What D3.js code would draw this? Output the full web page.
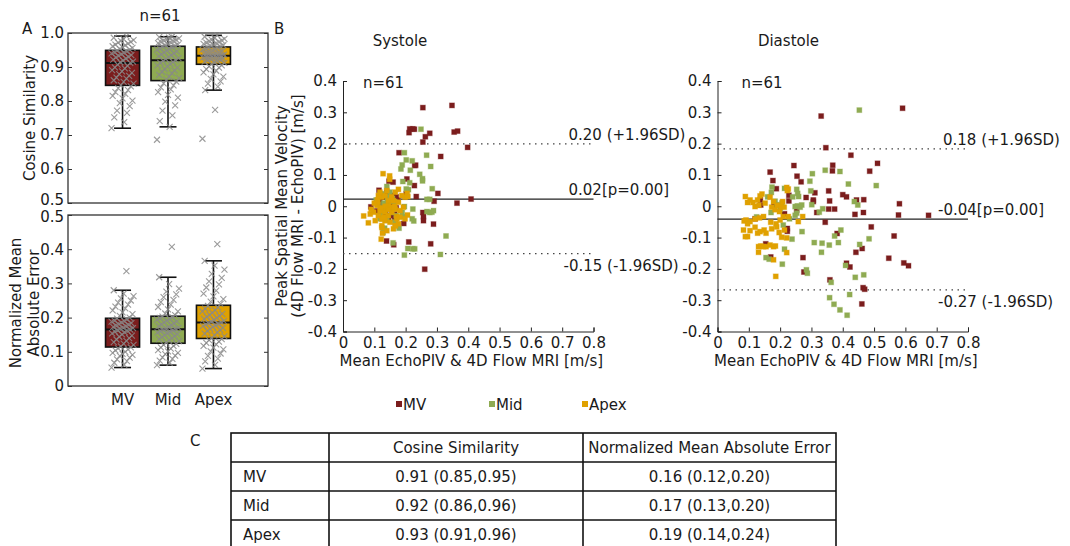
<!DOCTYPE html>
<html>
<head>
<meta charset="utf-8">
<title>EchoPIV vs 4D Flow MRI</title>
<script src="https://d3js.org/d3.v7.min.js"></script>
<style>
body { margin: 0; background: #fff; }
svg text { font-family: "DejaVu Sans", sans-serif; fill: #1a1a1a; }
</style>
</head>
<body>
<div id="chart"></div>
<script>
// ---- data ----
const groups = ['MV', 'Mid', 'Apex'];
const groupColors = ['#7b1d1d', '#8fab52', '#e0a100'];

// panel A box statistics (whisker low, q1, median, q3, whisker high)
const cosLo  = [0.720, 0.724, 0.832];
const cosQ1  = [0.846, 0.860, 0.908];
const cosMed = [0.912, 0.920, 0.933];
const cosQ3  = [0.949, 0.961, 0.959];
const cosHi  = [0.991, 0.989, 0.993];

const nmaeLo  = [0.054, 0.061, 0.051];
const nmaeQ1  = [0.114, 0.125, 0.139];
const nmaeMed = [0.165, 0.166, 0.186];
const nmaeQ3  = [0.198, 0.204, 0.236];
const nmaeHi  = [0.280, 0.318, 0.366];

// panel A individual values (n=61 each)
const cosMV = [0.720,0.738,0.752,0.765,0.772,0.785,0.794,0.801,0.808,0.815,0.821,0.826,0.832,0.838,0.843,
  0.847,0.851,0.856,0.861,0.866,0.869,0.874,0.879,0.883,0.887,0.891,0.896,0.899,0.903,0.907,0.912,
  0.914,0.916,0.919,0.922,0.925,0.928,0.930,0.933,0.935,0.938,0.940,0.942,0.944,0.946,0.948,
  0.951,0.953,0.956,0.958,0.961,0.964,0.966,0.969,0.972,0.974,0.977,0.979,0.982,0.986,0.991];
const cosMid = [0.686,0.724,0.741,0.758,0.772,0.787,0.798,0.810,0.818,0.826,0.834,0.840,0.846,0.852,0.857,
  0.862,0.867,0.872,0.877,0.882,0.886,0.890,0.894,0.898,0.902,0.905,0.909,0.912,0.915,0.918,0.920,
  0.923,0.926,0.929,0.932,0.935,0.937,0.940,0.943,0.946,0.948,0.951,0.953,0.955,0.958,0.960,
  0.962,0.964,0.966,0.968,0.970,0.972,0.974,0.976,0.978,0.980,0.982,0.984,0.986,0.988,0.989];
const cosApex = [0.689,0.774,0.832,0.842,0.851,0.858,0.865,0.872,0.878,0.884,0.889,0.894,0.898,0.902,0.905,
  0.909,0.912,0.914,0.916,0.918,0.920,0.922,0.924,0.925,0.927,0.928,0.929,0.930,0.931,0.932,0.933,
  0.934,0.936,0.937,0.939,0.940,0.942,0.943,0.945,0.947,0.949,0.951,0.953,0.955,0.957,0.958,
  0.960,0.962,0.964,0.966,0.968,0.970,0.972,0.974,0.976,0.978,0.980,0.983,0.986,0.989,0.993];
const nmaeMV = [0.054,0.062,0.068,0.073,0.078,0.083,0.088,0.091,0.094,0.097,0.100,0.104,0.107,0.110,0.113,
  0.116,0.120,0.124,0.128,0.132,0.136,0.140,0.144,0.147,0.151,0.154,0.157,0.159,0.161,0.163,0.165,
  0.167,0.169,0.171,0.173,0.175,0.177,0.179,0.181,0.184,0.186,0.188,0.190,0.192,0.195,0.197,
  0.200,0.205,0.210,0.215,0.221,0.227,0.232,0.238,0.244,0.250,0.256,0.263,0.270,0.280,0.336];
const nmaeMid = [0.061,0.068,0.074,0.079,0.084,0.089,0.093,0.097,0.101,0.105,0.109,0.113,0.117,0.120,0.123,
  0.127,0.131,0.134,0.137,0.140,0.143,0.146,0.149,0.152,0.155,0.157,0.159,0.161,0.163,0.165,0.166,
  0.168,0.170,0.172,0.175,0.178,0.180,0.183,0.186,0.189,0.191,0.194,0.196,0.199,0.201,0.203,
  0.207,0.212,0.218,0.224,0.231,0.238,0.245,0.252,0.260,0.268,0.276,0.285,0.298,0.318,0.407];
const nmaeApex = [0.051,0.062,0.072,0.080,0.088,0.095,0.101,0.107,0.112,0.117,0.122,0.126,0.130,0.134,0.137,
  0.141,0.145,0.149,0.153,0.157,0.161,0.164,0.167,0.170,0.173,0.176,0.178,0.180,0.182,0.184,0.186,
  0.188,0.190,0.193,0.196,0.199,0.202,0.205,0.208,0.211,0.214,0.218,0.222,0.226,0.230,0.234,
  0.240,0.247,0.254,0.262,0.270,0.279,0.288,0.297,0.306,0.316,0.328,0.340,0.352,0.366,0.415];

// panel B Bland-Altman points [mean, difference]
const sysMV = [[0.255,0.315],[0.348,0.322],[0.213,0.247],[0.223,0.247],[0.228,0.246],[0.211,0.235],[0.277,0.233],
  [0.355,0.237],[0.366,0.240],[0.263,0.222],[0.255,0.205],[0.398,0.188],[0.179,0.171],[0.229,0.130],[0.232,0.131],
  [0.312,0.159],[0.228,0.066],[0.147,0.080],[0.160,0.077],[0.115,0.051],[0.204,0.087],[0.234,0.031],[0.303,0.041],
  [0.409,0.023],[0.291,0.016],[0.364,0.010],[0.089,-0.002],[0.255,-0.020],[0.257,-0.033],[0.257,-0.046],[0.289,-0.057],
  [0.194,-0.055],[0.139,-0.111],[0.162,-0.123],[0.210,-0.114],[0.280,-0.120],[0.261,-0.201],[0.202,0.040],
  [0.125,0.030],[0.140,0.045],[0.150,0.010],[0.165,-0.025],[0.118,0.010],[0.135,-0.020],[0.145,0.000],[0.175,0.020],
  [0.128,-0.010],[0.145,-0.040],[0.170,-0.005],[0.130,0.000],[0.122,-0.030],[0.160,0.035],[0.108,-0.015],[0.148,0.022],
  [0.170,0.030],[0.165,-0.040],[0.155,-0.015],[0.150,-0.030],[0.115,0.020],[0.160,0.010],[0.138,0.030]];
const sysMid = [[0.249,0.246],[0.196,0.171],[0.267,0.163],[0.202,0.148],[0.221,0.145],[0.189,0.132],[0.185,0.119],
  [0.280,0.127],[0.215,0.115],[0.245,0.102],[0.254,0.088],[0.254,0.081],[0.191,0.079],[0.213,0.075],[0.285,0.056],
  [0.209,0.053],[0.202,0.055],[0.140,0.063],[0.119,0.039],[0.106,0.020],[0.268,0.022],[0.277,0.022],[0.196,-0.001],
  [0.223,-0.009],[0.189,-0.020],[0.194,-0.033],[0.221,-0.040],[0.226,-0.047],[0.268,-0.017],[0.277,-0.020],[0.284,-0.019],
  [0.289,-0.014],[0.133,-0.070],[0.128,-0.084],[0.179,-0.070],[0.168,-0.055],[0.329,-0.095],[0.160,-0.117],[0.207,-0.135],
  [0.223,-0.136],[0.229,-0.136],[0.196,-0.156],[0.311,-0.154],
  [0.130,0.010],[0.145,0.030],[0.155,-0.020],[0.120,-0.025],[0.165,0.015],[0.140,-0.045],[0.112,0.005],[0.150,0.045],
  [0.170,-0.030],[0.125,0.040],[0.135,-0.005],[0.160,-0.008],[0.118,-0.040],[0.148,0.015],[0.158,0.025],[0.128,-0.015],
  [0.142,0.020],[0.165,-0.050]];
const sysApex = [[0.128,0.104],[0.149,0.097],[0.149,0.086],[0.066,-0.031],[0.081,-0.053],[0.124,-0.068],[0.126,-0.086],
  [0.122,-0.105],[0.177,0.054],[0.205,0.041],[0.207,0.031],[0.167,-0.062],[0.172,-0.033],[0.206,-0.028],
  [0.124,0.029],[0.134,0.034],[0.145,0.018],[0.108,0.003],[0.098,-0.019],[0.113,-0.030],[0.129,-0.014],[0.145,-0.030],
  [0.156,-0.003],[0.167,-0.009],[0.134,-0.046],[0.150,-0.051],[0.103,-0.046],[0.172,-0.040],[0.177,-0.056],[0.161,-0.072],
  [0.182,-0.035],[0.198,-0.040],[0.193,-0.003],[0.177,0.013],[0.198,0.029],[0.167,0.045],[0.124,-0.041],[0.087,-0.025],
  [0.118,-0.014],[0.145,0.002],[0.134,-0.019],[0.156,-0.019],[0.111,0.013],[0.161,0.018],[0.182,-0.014],[0.167,-0.062],
  [0.124,-0.062],[0.140,-0.078],[0.113,0.034],[0.188,0.034],[0.110,0.020],[0.135,0.000],[0.145,-0.010],[0.120,-0.005],
  [0.155,0.030],[0.100,0.010],[0.140,0.050],[0.165,0.000],[0.130,-0.035],[0.118,0.045],[0.090,-0.010]];

const diaMV = [[0.331,0.288],[0.591,0.313],[0.346,0.187],[0.426,0.163],[0.511,0.137],[0.244,0.130],[0.368,0.131],
  [0.367,0.113],[0.486,0.112],[0.168,0.109],[0.254,0.096],[0.177,0.082],[0.267,0.078],[0.188,0.056],[0.355,0.049],
  [0.311,0.043],[0.400,0.037],[0.412,0.030],[0.228,0.035],[0.283,0.028],[0.306,0.020],[0.306,0.015],[0.444,0.020],
  [0.467,0.021],[0.358,0.017],[0.228,0.017],[0.581,0.008],[0.137,0.021],[0.355,-0.009],[0.374,-0.009],[0.317,-0.020],
  [0.214,-0.024],[0.466,-0.020],[0.439,-0.026],[0.578,-0.028],[0.674,-0.029],[0.344,-0.051],[0.491,-0.066],[0.223,-0.071],
  [0.382,-0.087],[0.564,-0.095],[0.154,-0.120],[0.462,-0.135],[0.442,-0.147],[0.273,-0.164],[0.547,-0.166],[0.170,-0.162],
  [0.412,-0.182],[0.423,-0.194],[0.595,-0.181],[0.610,-0.190],[0.276,-0.210],[0.359,-0.235],[0.465,-0.260],[0.470,-0.265],
  [0.461,-0.312],[0.138,0.004],[0.253,-0.012],[0.223,-0.080],[0.120,-0.040],[0.180,0.000]];
const diaMid = [[0.453,0.307],[0.344,0.115],[0.391,0.111],[0.303,0.104],[0.295,0.080],[0.418,0.071],[0.507,0.066],
  [0.174,0.061],[0.214,0.057],[0.253,0.054],[0.172,0.044],[0.298,0.049],[0.256,0.041],[0.259,0.031],[0.184,0.016],
  [0.240,0.030],[0.206,0.011],[0.437,0.015],[0.448,0.004],[0.248,-0.001],[0.255,0.001],[0.264,-0.003],[0.269,0.004],
  [0.301,0.005],[0.336,-0.008],[0.325,-0.019],[0.253,-0.022],[0.248,-0.029],[0.171,-0.020],[0.125,-0.034],[0.394,-0.076],
  [0.374,-0.095],[0.270,-0.081],[0.238,-0.105],[0.484,-0.104],[0.309,-0.116],[0.334,-0.118],[0.386,-0.116],[0.357,-0.124],
  [0.454,-0.122],[0.332,-0.147],[0.214,-0.137],[0.155,-0.164],[0.165,-0.169],[0.207,-0.185],[0.284,-0.203],[0.287,-0.214],
  [0.363,-0.243],[0.467,-0.219],[0.440,-0.227],[0.409,-0.189],[0.422,-0.282],[0.358,-0.292],[0.372,-0.313],[0.391,-0.331],
  [0.414,-0.348],[0.210,-0.060],[0.190,0.005],[0.230,-0.040],[0.160,0.030],[0.200,-0.010]];
const diaApex = [[0.221,0.060],[0.226,0.055],[0.223,0.050],[0.089,0.031],[0.096,0.012],[0.104,0.020],[0.113,0.012],
  [0.128,0.020],[0.136,0.033],[0.142,0.039],[0.120,-0.001],[0.132,0.003],[0.152,0.010],[0.168,0.029],[0.179,0.015],
  [0.191,0.003],[0.203,-0.001],[0.208,0.015],[0.213,-0.003],[0.173,-0.003],[0.184,-0.011],[0.198,-0.017],[0.085,-0.047],
  [0.091,-0.044],[0.104,-0.049],[0.096,-0.056],[0.120,-0.041],[0.134,-0.037],[0.147,-0.033],[0.083,-0.076],[0.096,-0.097],
  [0.104,-0.078],[0.089,-0.097],[0.120,-0.067],[0.128,-0.086],[0.136,-0.081],[0.149,-0.076],[0.155,-0.086],[0.170,-0.051],
  [0.187,-0.056],[0.200,-0.044],[0.210,-0.033],[0.226,-0.033],[0.173,-0.072],[0.189,-0.066],[0.197,-0.084],[0.131,-0.129],
  [0.138,-0.127],[0.147,-0.129],[0.155,-0.129],[0.168,-0.124],[0.179,-0.129],[0.185,-0.127],[0.131,-0.147],[0.179,-0.171],
  [0.186,-0.224],[0.221,-0.101],[0.221,-0.148],[0.258,-0.049],[0.272,-0.033],[0.214,-0.076],[0.205,-0.099]];

// limits of agreement
const sysLimits = [0.199, 0.023, -0.151];
const diaLimits = [0.183, -0.041, -0.267];
const sysLabels = ['0.20 (+1.96SD)', '0.02[p=0.00]', '-0.15 (-1.96SD)'];
const diaLabels = ['0.18 (+1.96SD)', '-0.04[p=0.00]', '-0.27 (-1.96SD)'];

// panel C table
const tableHeader = ['', 'Cosine Similarity', 'Normalized Mean Absolute Error'];
const tableCos  = ['0.91 (0.85,0.95)', '0.92 (0.86,0.96)', '0.93 (0.91,0.96)'];
const tableNmae = ['0.16 (0.12,0.20)', '0.17 (0.13,0.20)', '0.19 (0.14,0.24)'];

// ---- drawing ----
const W = 1070, H = 546;
const svg = d3.select('#chart').append('svg').attr('width', W).attr('height', H);
svg.append('rect').attr('width', W).attr('height', H).attr('fill', '#fff');

const fmt = v => Math.abs(v) < 1e-9 ? '0' : v.toFixed(1);

// panel A ----------------------------------------------------------
const xA = d3.scalePoint().domain(groups).range([68, 268]).padding(1.2);
const boxW = 34, capW = 17;

function boxPanel(y, values, lo, q1, med, q3, hi, ticks, edgeShift) {
  const g = svg.append('g');
  const [y0, y1] = y.range();
  g.append('g').attr('transform', 'translate(68,0)')
    .call(d3.axisLeft(y).tickValues(ticks).tickFormat(fmt).tickSize(-4).tickPadding(4))
    .call(a => a.select('.domain').remove())
    .call(a => a.selectAll('text').attr('font-size', 15))
    .call(a => a.selectAll('line').attr('stroke', '#333'))
    // nudge the label that sits where the two panels meet
    .call(a => a.selectAll('.tick text').filter(d => d === edgeShift[0]).attr('y', edgeShift[1]));
  g.append('g').attr('transform', 'translate(268,0)')
    .call(d3.axisRight(y).tickValues(ticks).tickFormat('').tickSize(-4))
    .call(a => a.select('.domain').remove())
    .call(a => a.selectAll('line').attr('stroke', '#333'));
  g.append('rect').attr('x', 68).attr('y', y1).attr('width', 200).attr('height', y0 - y1)
    .attr('fill', 'none').attr('stroke', '#333').attr('stroke-width', 1.3);

  groups.forEach((grp, i) => {
    const cx = xA(grp);
    g.append('line').attr('x1', cx).attr('x2', cx).attr('y1', y(lo[i])).attr('y2', y(hi[i]))
      .attr('stroke', '#111').attr('stroke-width', 1.6);
    [lo[i], hi[i]].forEach(v => g.append('line')
      .attr('x1', cx - capW / 2).attr('x2', cx + capW / 2).attr('y1', y(v)).attr('y2', y(v))
      .attr('stroke', '#111').attr('stroke-width', 1.6));
    g.append('rect').attr('x', cx - boxW / 2).attr('y', y(q3[i]))
      .attr('width', boxW).attr('height', y(q1[i]) - y(q3[i]))
      .attr('fill', groupColors[i]).attr('stroke', '#111').attr('stroke-width', 1.6);
    g.append('line').attr('x1', cx - boxW / 2).attr('x2', cx + boxW / 2)
      .attr('y1', y(med[i])).attr('y2', y(med[i])).attr('stroke', '#111').attr('stroke-width', 2);
    g.append('g').selectAll('path').data(values[i]).join('path')
      .attr('transform', (d, j) => `translate(${cx + ((j * 23) % 41 - 20) * 0.55},${y(d)})`)
      .attr('d', 'M-3,-3L3,3M-3,3L3,-3')
      .attr('stroke', '#8a8a8a').attr('stroke-opacity', 0.85).attr('stroke-width', 1.1).attr('fill', 'none');
  });
}

const yCos = d3.scaleLinear().domain([0.5, 1.0]).range([203, 33]);
const yNmae = d3.scaleLinear().domain([0, 0.5]).range([386, 215]);
boxPanel(yCos, [cosMV, cosMid, cosApex], cosLo, cosQ1, cosMed, cosQ3, cosHi,
  [0.5, 0.6, 0.7, 0.8, 0.9, 1.0], [0.5, -3]);
boxPanel(yNmae, [nmaeMV, nmaeMid, nmaeApex], nmaeLo, nmaeQ1, nmaeMed, nmaeQ3, nmaeHi,
  [0, 0.1, 0.2, 0.3, 0.4, 0.5], [0.5, 2]);

svg.selectAll('.glab').data(groups).join('text')
  .attr('x', d => xA(d)).attr('y', 405).attr('text-anchor', 'middle').attr('font-size', 15).text(d => d);
svg.append('text').attr('x', 160).attr('y', 21).attr('text-anchor', 'middle').attr('font-size', 15).text('n=61');
svg.append('text').attr('x', 22).attr('y', 34).attr('font-size', 15).text('A');
svg.append('text').attr('transform', 'translate(35,118) rotate(-90)').attr('text-anchor', 'middle')
  .attr('font-size', 15).text('Cosine Similarity');
svg.append('text').attr('transform', 'translate(21,303) rotate(-90)').attr('text-anchor', 'middle')
  .attr('font-size', 15).text('Normalized Mean');
svg.append('text').attr('transform', 'translate(39,303) rotate(-90)').attr('text-anchor', 'middle')
  .attr('font-size', 15).text('Absolute Error');

// panel B ----------------------------------------------------------
const yB = d3.scaleLinear().domain([-0.4, 0.4]).range([331.5, 81]);
const bTicksY = d3.range(-4, 5).map(v => v / 10);
const bTicksX = d3.range(0, 9).map(v => v / 10);

function baPanel(left, title, titleX, nX, sets, limits, labels) {
  const x = d3.scaleLinear().domain([0, 0.8]).range([left, left + 250.5]);
  const g = svg.append('g');
  g.append('g').attr('transform', `translate(${left},0)`)
    .call(d3.axisLeft(yB).tickValues(bTicksY).tickFormat(fmt).tickSize(-4).tickPadding(6))
    .call(a => a.selectAll('text').attr('font-size', 15));
  g.append('g').attr('transform', `translate(0,${yB(-0.4)})`)
    .call(d3.axisBottom(x).tickValues(bTicksX).tickFormat(fmt).tickSize(-4).tickPadding(6))
    .call(a => a.selectAll('text').attr('font-size', 15));
  g.selectAll('.domain, .tick line').attr('stroke', '#222');

  // limits of agreement
  limits.forEach((v, i) => {
    g.append('line').attr('x1', x(0)).attr('x2', x(0.8)).attr('y1', yB(v)).attr('y2', yB(v))
      .attr('stroke', i === 1 ? '#222' : '#444').attr('stroke-width', 1.3)
      .attr('stroke-dasharray', i === 1 ? null : '1.5,4.5');
  });

  sets.forEach((pts, i) => {
    g.append('g').selectAll('rect').data(pts).join('rect')
      .attr('x', d => x(d[0]) - 2.5).attr('y', d => yB(d[1]) - 2.5)
      .attr('width', 5).attr('height', 5)
      .attr('fill', groupColors[i]).attr('stroke', groupColors[i]).attr('stroke-opacity', 0.35).attr('stroke-width', 1);
  });

  labels.forEach((t, i) => {
    const v = limits[i];
    g.append('text').attr('x', x(0.8) - 25 - (t[0] === '-' ? 5 : 0))
      .attr('y', yB(v) + (i === 2 ? 17 : -4)).attr('font-size', 15).text(t);
  });

  g.append('text').attr('x', left + nX).attr('y', 88).attr('font-size', 15).text('n=61');
  g.append('text').attr('x', left + titleX).attr('y', 46).attr('text-anchor', 'middle').attr('font-size', 15).text(title);
  g.append('text').attr('x', x(0.41)).attr('y', 366).attr('text-anchor', 'middle').attr('font-size', 15)
    .text('Mean EchoPIV & 4D Flow MRI [m/s]');
}

baPanel(343, 'Systole', 57, 20, [sysMV, sysMid, sysApex], sysLimits, sysLabels);
baPanel(717.5, 'Diastole', 71, 24, [diaMV, diaMid, diaApex], diaLimits, diaLabels);

svg.append('text').attr('x', 274).attr('y', 34).attr('font-size', 15).text('B');
svg.append('text').attr('transform', 'translate(287,206) rotate(-90)').attr('text-anchor', 'middle')
  .attr('font-size', 15).text('Peak Spatial Mean Velocity');
svg.append('text').attr('transform', 'translate(303,206) rotate(-90)').attr('text-anchor', 'middle')
  .attr('font-size', 15).text('(4D Flow MRI - EchoPIV) [m/s]');

// legend
const legX = d3.scalePoint().domain(groups).range([396, 582]);
const leg = svg.append('g').selectAll('g').data(groups).join('g')
  .attr('transform', d => `translate(${legX(d)},404)`);
leg.append('rect').attr('x', 0).attr('y', -3).attr('width', 6).attr('height', 6)
  .attr('fill', (d, i) => groupColors[i]);
leg.append('text').attr('x', 7).attr('y', 5.5).attr('font-size', 15).text(d => d);

// panel C table ------------------------------------------------------
svg.append('text').attr('x', 190).attr('y', 446).attr('font-size', 15).text('C');
const colEdges = [231, 329, 583, 836];
const rowY = d3.scaleBand().domain(d3.range(4)).range([433, 549]);
const tbl = svg.append('g');
tbl.append('rect').attr('x', colEdges[0]).attr('y', 433).attr('width', colEdges[3] - colEdges[0])
  .attr('height', 116).attr('fill', 'none').attr('stroke', '#111').attr('stroke-width', 1.6);
colEdges.slice(1, 3).forEach(cx => tbl.append('line').attr('x1', cx).attr('x2', cx)
  .attr('y1', 433).attr('y2', 549).attr('stroke', '#111').attr('stroke-width', 1.6));
d3.range(1, 4).forEach(r => tbl.append('line').attr('x1', colEdges[0]).attr('x2', colEdges[3])
  .attr('y1', rowY(r)).attr('y2', rowY(r)).attr('stroke', '#111').attr('stroke-width', 1.6));

const rowsText = [tableHeader].concat(groups.map((g, i) => [g, tableCos[i], tableNmae[i]]));
rowsText.forEach((row, r) => {
  const ty = rowY(r) + rowY.bandwidth() / 2 + 5;
  tbl.append('text').attr('x', colEdges[0] + 12).attr('y', ty).attr('font-size', 15).text(row[0]);
  tbl.append('text').attr('x', (colEdges[1] + colEdges[2]) / 2).attr('y', ty)
    .attr('text-anchor', 'middle').attr('font-size', 15).text(row[1]);
  tbl.append('text').attr('x', (colEdges[2] + colEdges[3]) / 2).attr('y', ty)
    .attr('text-anchor', 'middle').attr('font-size', 15).text(row[2]);
});
</script>
</body>
</html>
